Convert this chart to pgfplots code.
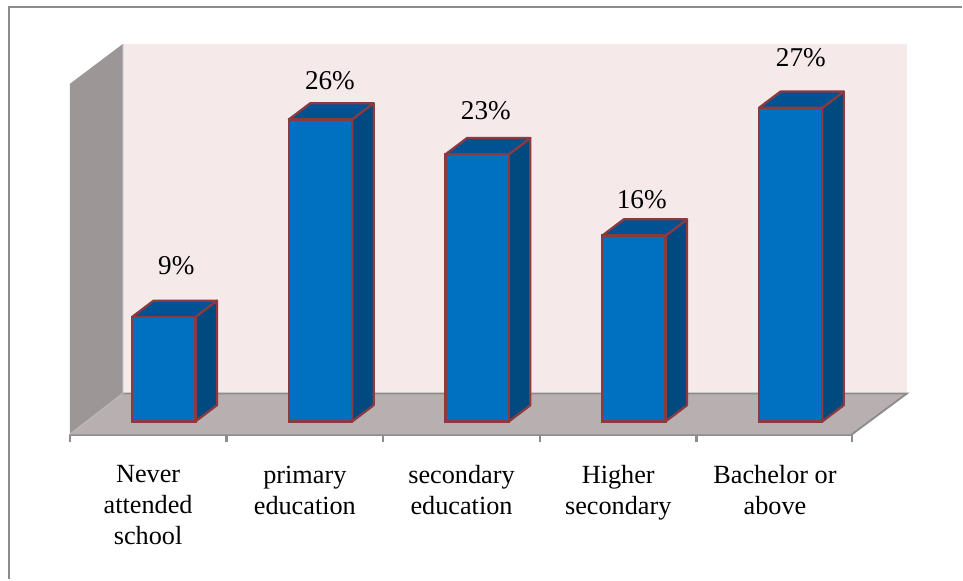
\documentclass[border=0pt]{standalone}
\usepackage{fontspec}
\setmainfont{Liberation Serif}
\usepackage{pgfplots}
\pgfplotsset{compat=1.18}
\definecolor{barfront}{HTML}{0070C0}
\definecolor{barside}{HTML}{004A80}
\definecolor{bartop}{HTML}{005292}
\definecolor{baredge}{HTML}{8A3A40}
\definecolor{wallgrey}{HTML}{9C9696}
\definecolor{backwall}{HTML}{F5E9E9}
\definecolor{floorgrey}{HTML}{B8B0B0}
\definecolor{axisgrey}{HTML}{8C8C8C}
\begin{document}
\begin{tikzpicture}
\begin{axis}[
  scale only axis,
  width=587.25pt, height=263.25pt,
  xmin=-0.6, xmax=4.39, ymin=-1.118, ymax=29.06,
  clip=false,
  axis x line=bottom, axis y line=none,
  axis line style={axisgrey, line width=1.8pt, -},
  xtick={-0.1,0.9,1.9,2.9,3.9},
  xticklabels={Never\\attended\\school, primary\\education, secondary\\education, Higher\\secondary, Bachelor or\\above},
  major tick length=0pt,
  extra x ticks={-0.6,0.4,1.4,2.4,3.4,4.39},
  extra x tick labels={},
  extra x tick style={major tick length=5.5pt, tick style={axisgrey, line width=1.8pt}, tick pos=lower, tickwidth=5.5pt},
  xticklabel style={align=center, anchor=north, font=\fontsize{19.7pt}{23.25pt}\selectfont, yshift=-20pt, text=black},
  every tick/.style={axisgrey, line width=1.8pt},
  tick align=outside,
]
% page frame
\path (axis cs:-1.0453,36.285) -- (axis cs:5.0924,-13.586);
\addplot[axisgrey, line width=1.8pt] coordinates {(-0.9879,-13.586) (-0.9879,35.68) (5.0924,35.68)};
% walls and floor
\addplot[fill=backwall, draw=none] coordinates {(-0.2613,32.5) (4.742,32.5) (4.742,2.41) (-0.2613,2.41)} -- cycle;
\addplot[fill=wallgrey, draw=none] coordinates {(-0.6,29.06) (-0.2613,32.5) (-0.2613,2.41) (-0.6,-1.118)} -- cycle;
\addplot[fill=floorgrey, draw=none] coordinates {(-0.6,-1.118) (-0.2613,2.41) (4.742,2.41) (4.39,-1.118)} -- cycle;
\addplot[axisgrey, line width=1.4pt] coordinates {(-0.2613,2.41) (4.742,2.41) (4.39,-1.118)};
\addplot[color=axisgrey!60, line width=0.9pt] coordinates {(-0.2613,32.5) (-0.2613,2.41) (-0.6,-1.118)};
% bar sides and tops
\pgfplotsset{
  side/.style={fill=barside, draw=baredge, line width=1.7pt, line join=round},
  top/.style={fill=bartop, draw=baredge, line width=1.7pt, line join=round}}
\addplot[side] coordinates {(0.202,0) (0.339,1.4) (0.339,10.4) (0.202,9)} -- cycle;
\addplot[top] coordinates {(-0.202,9) (-0.065,10.4) (0.339,10.4) (0.202,9)} -- cycle;
\addplot[side] coordinates {(1.202,0) (1.339,1.4) (1.339,27.4) (1.202,26)} -- cycle;
\addplot[top] coordinates {(0.798,26) (0.935,27.4) (1.339,27.4) (1.202,26)} -- cycle;
\addplot[side] coordinates {(2.202,0) (2.339,1.4) (2.339,24.4) (2.202,23)} -- cycle;
\addplot[top] coordinates {(1.798,23) (1.935,24.4) (2.339,24.4) (2.202,23)} -- cycle;
\addplot[side] coordinates {(3.202,0) (3.339,1.4) (3.339,17.4) (3.202,16)} -- cycle;
\addplot[top] coordinates {(2.798,16) (2.935,17.4) (3.339,17.4) (3.202,16)} -- cycle;
\addplot[side] coordinates {(4.202,0) (4.339,1.4) (4.339,28.4) (4.202,27)} -- cycle;
\addplot[top] coordinates {(3.798,27) (3.935,28.4) (4.339,28.4) (4.202,27)} -- cycle;
% bar fronts
\addplot[ybar, bar width=47.6pt, bar shift=0pt, fill=barfront, draw=baredge, line width=1.7pt]
  coordinates {(0,9) (1,26) (2,23) (3,16) (4,27)};
% value labels
\node[font=\fontsize{20.4pt}{24pt}\selectfont] at (axis cs:0.08,13.4) {9\%};
\node[font=\fontsize{20.4pt}{24pt}\selectfont] at (axis cs:1.06,29.3) {26\%};
\node[font=\fontsize{20.4pt}{24pt}\selectfont] at (axis cs:2.055,26.75) {23\%};
\node[font=\fontsize{20.4pt}{24pt}\selectfont] at (axis cs:3.05,19.1) {16\%};
\node[font=\fontsize{20.4pt}{24pt}\selectfont] at (axis cs:4.065,31.3) {27\%};
\end{axis}
\end{tikzpicture}
\end{document}
